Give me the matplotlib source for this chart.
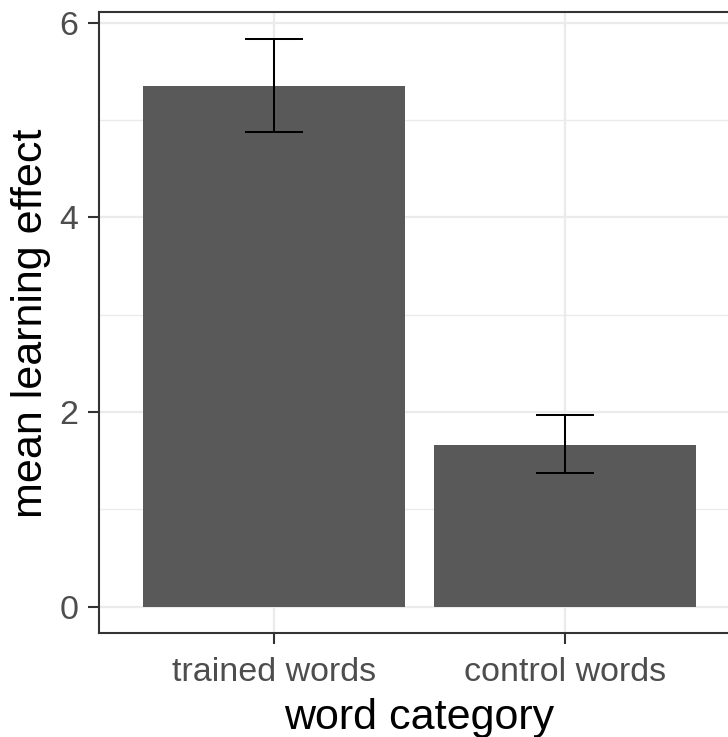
import matplotlib
matplotlib.use("Agg")
import matplotlib.pyplot as plt
from matplotlib.ticker import MultipleLocator

categories = ["trained words", "control words"]
means = [5.35, 1.66]
lower = [4.88, 1.37]
upper = [5.83, 1.97]

plt.rcParams['font.family'] = ['Liberation Sans', 'DejaVu Sans']

W, H = 728, 737
fig = plt.figure(figsize=(W / 100, H / 100), dpi=100)
left, right, top, bottom = 99.4, 739.6, 12.3, 633.3
ax = fig.add_axes([left / W, (H - bottom) / H, (right - left) / W, (bottom - top) / H])

x = list(range(len(categories)))
ax.bar(x, means, width=0.9, color="#595959", zorder=2)
yerr = [[m - l for m, l in zip(means, lower)], [u - m for m, u in zip(means, upper)]]
ax.errorbar(x, means, yerr=yerr, fmt="none", ecolor="black", elinewidth=1.45,
            capsize=20.9, capthick=1.45, zorder=3)

ax.set_xlim(-0.6, 1.6)
ax.set_ylim(-0.273, 6.107)
ax.set_xticks(x)
ax.set_xticklabels(categories)
ax.yaxis.set_major_locator(MultipleLocator(2))
ax.yaxis.set_minor_locator(MultipleLocator(1))

grid_c = "#EBEBEB"
ax.grid(True, which="major", color=grid_c, linewidth=1.6, zorder=0)
ax.grid(True, which="minor", axis="y", color=grid_c, linewidth=1.0, zorder=0)
ax.set_axisbelow(True)

for s in ax.spines.values():
    s.set_color("#333333")
    s.set_linewidth(1.5)

ax.tick_params(axis="both", which="major", length=8, width=1.5, color="#333333",
               labelsize=24.5, labelcolor="#4D4D4D")
ax.tick_params(axis="x", pad=9.3)
ax.tick_params(axis="y", pad=7)
ax.tick_params(axis="y", which="minor", length=0)

ax.set_xlabel("word category", fontsize=31, color="black", labelpad=7.3)
ax.set_ylabel("mean learning effect", fontsize=31, color="black", labelpad=6.5)

fig.savefig("out.png", dpi=100)
